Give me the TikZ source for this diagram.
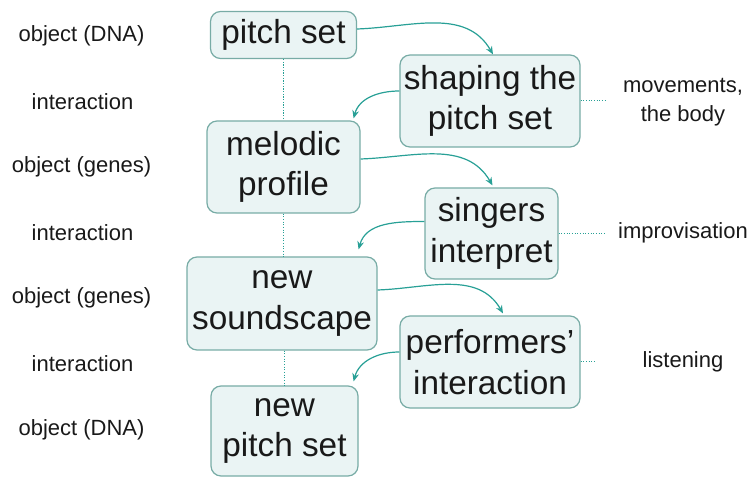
\documentclass[tikz,border=0pt]{standalone}
\usepackage{fontspec}
\setmainfont{Liberation Sans}
\usetikzlibrary{arrows.meta,calc}
\definecolor{boxfill}{RGB}{234,244,244}
\definecolor{boxline}{RGB}{120,172,166}
\definecolor{flow}{RGB}{40,160,150}
\definecolor{ink}{RGB}{25,25,25}
\tikzset{
  stage/.style={draw=boxline, fill=boxfill, line width=0.9pt, rounded corners=7.5pt,
    inner sep=0pt, align=center, text=ink, font=\fontsize{25}{30.5}\selectfont},
  side/.style={inner sep=0pt, align=center, text=ink, font=\fontsize{16.5}{22}\selectfont},
  flowarrow/.style={draw=flow, line width=0.9pt, -{Stealth[length=6pt,width=5pt]}},
  link/.style={draw=flow, line width=0.75pt, dash pattern=on 0.9pt off 1.1pt},
}
\begin{document}
\begin{tikzpicture}[x=0.75pt,y=-0.75pt]
\useasboundingbox (0,0) rectangle (750,477);

% main stages
\node[stage, minimum width=109.5pt, minimum height=35.25pt] (pitch) at (283.5,35) {pitch set};
\node[stage, minimum width=114.75pt, minimum height=69pt] (melodic) at (283.5,167) {melodic\\profile};
\node[stage, minimum width=142.5pt, minimum height=69.75pt] (sound) at (282,303.5) {new\\soundscape};
\node[stage, minimum width=110.25pt, minimum height=67.5pt] (newpitch) at (284.5,431) {new\\pitch set};

% interaction stages
\node[stage, minimum width=135pt, minimum height=69pt] (shaping) at (490,101) {shaping the\\pitch set};
\node[stage, minimum width=99.75pt, minimum height=68.25pt] (singers) at (491.5,233.5) {singers\\interpret};
\node[stage, minimum width=135pt, minimum height=69pt] (perf) at (490,362) {performers’\\interaction};

% left column labels
\node[side] (l1) at (81.5,36) {object (DNA)};
\node[side] (l2) at (82.5,102) {interaction};
\node[side] (l3) at (81.5,167) {object (genes)};
\node[side] (l4) at (82.5,233) {interaction};
\node[side] (l5) at (81.5,298) {object (genes)};
\node[side] (l6) at (82.5,364) {interaction};
\node[side] (l7) at (81.5,430) {object (DNA)};

% right column labels
\node[side] (r1) at (683,102) {movements,\\the body};
\node[side] (r2) at (683,233) {improvisation};
\node[side] (r3) at (683,362) {listening};

% dotted links
\draw[link] (pitch.south) -- (pitch.south |- melodic.north);
\draw[link] (melodic.south) -- (melodic.south |- sound.north);
\draw[link] (sound.south -| newpitch.north) -- (newpitch.north);
\draw[link, shorten >=12pt] (shaping.east) -- (shaping.east -| r1.west);
\draw[link, shorten >=9pt] (singers.east) -- (singers.east -| r2.west);
\draw[link, shorten >=36pt] (perf.east) -- (perf.east -| r3.west);

% flow arrows
\draw[flowarrow] ($(pitch.east)+(0,-6)$) to[out=2,in=120] ($(shaping.north)+(3,0)$);
\draw[flowarrow] ($(shaping.west)+(0,-10)$) to[out=180,in=75] ($(melodic.north east)+(-7,-2)$);
\draw[flowarrow] ($(melodic.east)+(0,-8)$) to[out=2,in=120] ($(singers.north)+(1,-2)$);
\draw[flowarrow] ($(singers.west)+(0,-12)$) to[out=180,in=75] ($(sound.north east)+(-19,-7)$);
\draw[flowarrow] ($(sound.east)+(0,-13.5)$) to[out=2,in=120] ($(perf.north)+(13,-2)$);
\draw[flowarrow] ($(perf.west)+(0,-10)$) to[out=180,in=75] ($(newpitch.north east)+(-5,-4)$);
\end{tikzpicture}
\end{document}
